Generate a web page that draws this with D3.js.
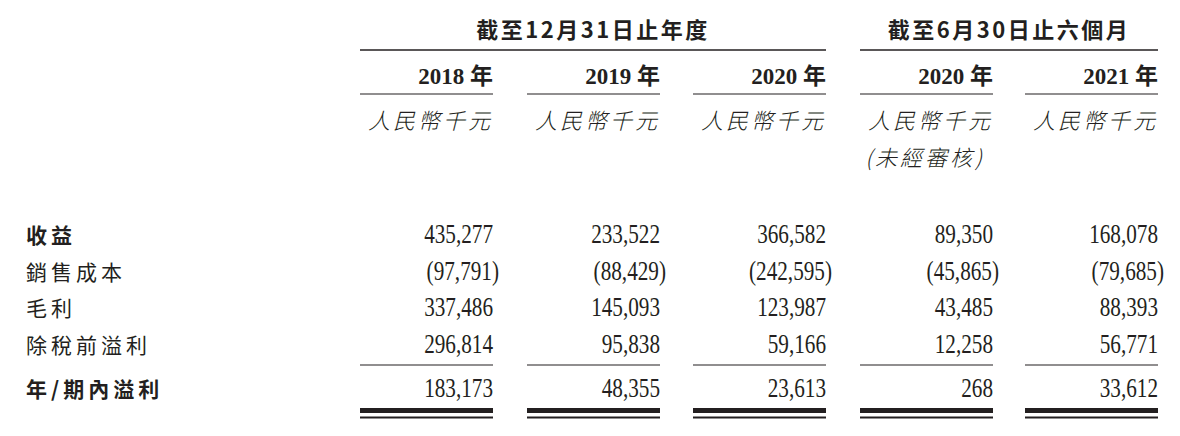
<!DOCTYPE html><html><head><meta charset="utf-8">
<script src="https://cdn.jsdelivr.net/npm/d3@7/dist/d3.min.js"></script>
<style>body{margin:0;background:#fff}</style></head><body><svg id="c" width="1180" height="436"></svg>
<script>
const groups = ["截至12月31日止年度", "截至6月30日止六個月"];
const years = ["2018年", "2019年", "2020年", "2020年", "2021年"];
const units = ["人民幣千元", "人民幣千元", "人民幣千元", "人民幣千元", "人民幣千元"];
const unaudited = ["", "", "", "(未經審核)", ""];
const rowLabels = ["收益", "銷售成本", "毛利", "除稅前溢利", "年/期內溢利"];
const rowBold = [true, false, false, false, true];
const revenue = [435277, 233522, 366582, 89350, 168078];
const costOfSales = [-97791, -88429, -242595, -45865, -79685];
const grossProfit = [337486, 145093, 123987, 43485, 88393];
const profitBeforeTax = [296814, 95838, 59166, 12258, 56771];
const profitForPeriod = [183173, 48355, 23613, 268, 33612];
const rows = [revenue, costOfSales, grossProfit, profitBeforeTax, profitForPeriod];

const svg = d3.select("#c");
const cjk = "'Noto Sans CJK TC','Noto Sans CJK SC',sans-serif";
const num = "'Liberation Serif','DejaVu Serif',serif";
const colRight = d3.scaleOrdinal().domain(d3.range(5)).range([493, 660, 826, 993, 1158]);
const colW = 133;
const rowY = d3.scaleOrdinal().domain(d3.range(5)).range([243, 280, 316, 353, 397]);
const fmt = v => { const s = d3.format(",")(Math.abs(v)); return v < 0 ? "(" + s + ")" : s; };
const ink = "#231f20";

[[0, 2], [3, 4]].forEach((g, i) => {
  const x0 = colRight(g[0]) - colW, x1 = colRight(g[1]);
  svg.append("text").attr("x", (x0 + x1) / 2).attr("y", 38).attr("text-anchor", "middle")
    .attr("font-family", cjk).attr("font-weight", "bold").attr("font-size", 22).attr("letter-spacing", 2.5).attr("fill", ink).text(groups[i]);
  svg.append("line").attr("x1", x0).attr("x2", x1).attr("y1", 50).attr("y2", 50).attr("stroke", ink).attr("stroke-width", 1.5);
});
d3.range(5).forEach(i => {
  const r = colRight(i);
  const t = svg.append("text").attr("x", r).attr("y", 84).attr("text-anchor", "end").attr("fill", ink).attr("font-weight", "bold").attr("font-size", 23);
  t.append("tspan").attr("font-family", num).text(years[i].slice(0, 4) + " ");
  t.append("tspan").attr("font-family", cjk).text("年");
  svg.append("line").attr("x1", r - colW).attr("x2", r).attr("y1", 94).attr("y2", 94).attr("stroke", ink).attr("stroke-width", 1.2);
  svg.append("text").attr("x", r).attr("y", 129).attr("text-anchor", "end").attr("font-family", cjk).attr("font-size", 22)
    .attr("font-style", "italic").attr("font-weight", 300).attr("letter-spacing", 3).attr("fill", ink).text(units[i]);
  if (unaudited[i]) svg.append("text").attr("x", r - 8).attr("y", 166).attr("text-anchor", "end").attr("font-family", cjk).attr("font-size", 22)
    .attr("font-style", "italic").attr("font-weight", 300).attr("letter-spacing", 3).attr("fill", ink).text(unaudited[i]);
  svg.append("line").attr("x1", r - colW).attr("x2", r).attr("y1", 365).attr("y2", 365).attr("stroke", ink).attr("stroke-width", 1.2);
  svg.append("rect").attr("x", r - colW).attr("width", colW).attr("y", 408).attr("height", 5).attr("fill", ink);
  svg.append("rect").attr("x", r - colW).attr("width", colW).attr("y", 416.5).attr("height", 2).attr("fill", ink);
});
rows.forEach((vals, j) => {
  const y = rowY(j);
  svg.append("text").attr("x", 26).attr("y", y).attr("font-family", cjk).attr("font-size", 21)
    .attr("font-weight", rowBold[j] ? "bold" : "normal").attr("letter-spacing", 4).attr("fill", ink).text(rowLabels[j]);
  vals.forEach((v, i) => {
    const r = colRight(i) + (v < 0 ? 6 : 0);
    svg.append("text").attr("transform", `translate(${r},${y}) scale(0.8,1)`).attr("text-anchor", "end")
      .attr("font-family", num).attr("font-size", 26.5).attr("fill", ink).text(fmt(v));
  });
});
</script></body></html>
